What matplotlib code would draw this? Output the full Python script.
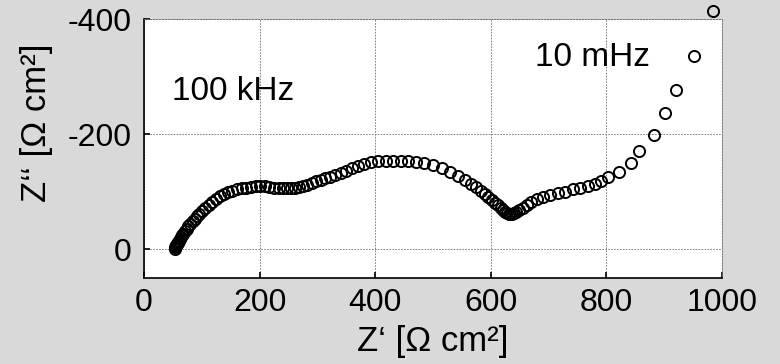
import numpy as np
import matplotlib.pyplot as plt

# импеданс: Z' и Z'' в Ом*см2 (Z'' отрицательная ветвь, ось перевёрнута)
z_re = [53, 54, 55, 56, 57, 58, 59, 60, 62, 64, 66, 68, 71, 74, 77, 80, 84, 88, 92, 96,
        101, 106, 112, 118, 124, 131, 138, 145, 153, 161, 169, 177, 185, 193, 201, 209,
        217, 225, 233, 240, 247, 254, 261, 268, 275, 282, 290, 298, 306, 314, 322, 331,
        340, 350, 360, 370, 381, 393, 405, 418, 431, 444, 457, 470, 485, 500, 515, 530,
        544, 556, 566, 575, 583, 590, 596, 602, 607, 612, 617, 621, 625, 628, 631, 634,
        637, 640, 644, 649, 655, 662, 670, 680, 691, 703, 716, 729, 742, 755, 768, 780,
        791, 802, 822, 843, 857, 883, 902, 921, 951, 984]
z_im = [-1, -3, -5, -7, -9, -11, -13, -14, -17, -21, -24, -27, -31, -35, -40, -44, -49, -53, -57, -62,
        -67, -72, -77, -82, -87, -92, -96, -99, -102, -104, -106, -107, -108, -109, -109, -109,
        -108, -107, -107, -106, -106, -106, -107, -108, -110, -112, -115, -118, -120, -123, -125, -129,
        -132, -136, -141, -145, -148, -151, -153, -154, -154, -154, -153, -152, -149, -146, -141, -135,
        -128, -121, -114, -108, -102, -96, -91, -86, -81, -77, -72, -68, -65, -63, -61, -61,
        -62, -63, -65, -68, -72, -77, -82, -87, -91, -94, -97, -100, -104, -107, -110, -113,
        -118, -126, -134, -150, -170, -199, -236, -277, -335, -414]

x_ticks = [0, 200, 400, 600, 800, 1000]
y_ticks = [0, -200, -400]

plt.rcParams['font.family'] = ['Liberation Sans', 'DejaVu Sans']
plt.rcParams['axes.unicode_minus'] = False

fig = plt.figure(figsize=(7.8, 3.64), dpi=100, facecolor='#d9d9d9')
ax = fig.add_axes([0.1846, 0.2363, 0.741, 0.7115])
ax.set_facecolor('white')

ax.plot(z_re, z_im, 'o', mfc='none', mec='black', ms=8, mew=1.4, clip_on=False, zorder=3)

ax.set_xlim(0, 1000)
ax.set_ylim(50, -400)
ax.set_xticks(x_ticks)
ax.set_yticks(y_ticks)
ax.grid(True, linestyle=(0, (2, 1.5)), color='#707070', linewidth=0.6)

for side in ['top', 'right']:
    ax.spines[side].set_linestyle((0, (2, 1.5)))
    ax.spines[side].set_color('#707070')
    ax.spines[side].set_linewidth(0.6)
for side in ['left', 'bottom']:
    ax.spines[side].set_linewidth(1.2)

ax.tick_params(direction='in', length=4, width=1.2, labelsize=23)
ax.tick_params(axis='y', pad=9)
ax.tick_params(axis='x', pad=7)

ax.set_xlabel('Z\u2018 [\u03a9 cm\u00b2]', fontsize=25, labelpad=5)
ax.set_ylabel('Z\u2018\u2018 [\u03a9 cm\u00b2]', fontsize=25)
ax.yaxis.set_label_coords(-0.158, 0.6)

ax.text(48, -259, '100 kHz', fontsize=24)
ax.text(676, -318, '10 mHz', fontsize=24)

plt.savefig('out.png', dpi=100, facecolor=fig.get_facecolor())
